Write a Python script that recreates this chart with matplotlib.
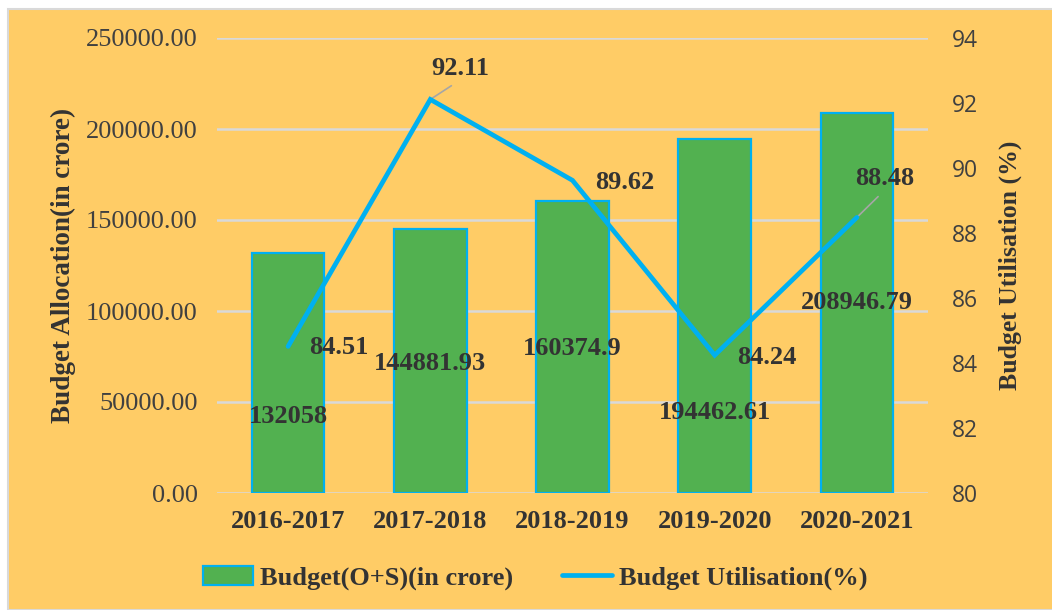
import matplotlib
matplotlib.use("Agg")
import matplotlib.pyplot as plt
from matplotlib.patches import Rectangle

# Data
years = ["2016-2017", "2017-2018", "2018-2019", "2019-2020", "2020-2021"]
budget = [132058, 144881.93, 160374.9, 194462.61, 208946.79]
budget_text = ["132058", "144881.93", "160374.9", "194462.61", "208946.79"]
utilisation = [84.51, 92.11, 89.62, 84.24, 88.48]
left_ticks = [0, 50000, 100000, 150000, 200000, 250000]
right_ticks = [80, 82, 84, 86, 88, 90, 92, 94]

# label offsets (pixels) as placed in the original
bar_lab_off = [(0, -164), (0, -134), (0, -147), (0, -273), (0, -190)]
line_lab_off = [(51, -1), (30, 31), (52, -2), (52, -2), (28, 39)]
leader = [False, True, False, False, True]

serif = "Liberation Serif"
txt = "#333333"
bg = "#FFCC66"
green = "#52B150"
cyan = "#00B0F0"

fig = plt.figure(figsize=(10.52, 6.1), dpi=100, facecolor="white")
fig.patches.append(Rectangle((8/1052, 0), 1.0, 1 - 9/610, transform=fig.transFigure,
                             facecolor=bg, edgecolor="#D9D9D9", lw=1.5, zorder=-10))
ax = fig.add_axes([217/1052, 1 - 493/610, 711/1052, 455/610])
ax.set_facecolor("none")
x = list(range(len(years)))

bars = ax.bar(x, budget, width=0.51, color=green, edgecolor=cyan, lw=1.6,
              label="Budget(O+S)(in crore)", zorder=3)
ax.set_xlim(-0.5, 4.5)
ax.set_ylim(0, 250000)
ax.set_yticks(left_ticks)
ax.set_yticklabels(["%.2f" % v for v in left_ticks], fontfamily=serif,
                   fontsize=19, color="#404040")
ax.set_xticks(x)
ax.set_xticklabels(years, fontfamily=serif, fontsize=19, fontweight="bold", color=txt)
ax.tick_params(axis="both", length=0)
ax.tick_params(axis="y", pad=14)
ax.tick_params(axis="x", pad=12)
ax.yaxis.grid(True, color="#D9D9D9", lw=1.8, zorder=0)
ax.set_axisbelow(True)
for s in ax.spines.values():
    s.set_visible(False)
ax.set_ylabel("Budget Allocation(in crore)", fontfamily=serif, fontsize=19.5,
              fontweight="bold", color=txt, labelpad=7)

for i in x:
    ax.annotate(budget_text[i], (x[i], budget[i]), xytext=bar_lab_off[i],
                textcoords="offset pixels", ha="center", va="center",
                fontfamily=serif, fontsize=19, fontweight="bold", color=txt, zorder=6)

ax2 = ax.twinx()
ln, = ax2.plot(x, utilisation, color=cyan, lw=3.4, solid_capstyle="round",
               solid_joinstyle="miter", label="Budget Utilisation(%)", zorder=4)
ax2.set_ylim(80, 94)
ax2.set_yticks(right_ticks)
ax2.set_yticklabels([str(v) for v in right_ticks], fontfamily="Open Sans",
                    fontsize=16.5, color="#404040")
ax2.tick_params(axis="y", length=0, pad=17)
for s in ax2.spines.values():
    s.set_visible(False)
ax2.set_ylabel("Budget Utilisation (%)", fontfamily=serif, fontsize=18.5,
               fontweight="bold", color=txt, labelpad=15)

for i in x:
    kw = {}
    if leader[i]:
        kw["arrowprops"] = dict(arrowstyle="-", color="#A6A6A6", lw=1.2,
                                relpos=(0.5, 0.0), shrinkA=4, shrinkB=0)
    ax2.annotate("%.2f" % utilisation[i], (x[i], utilisation[i]), xytext=line_lab_off[i],
                 textcoords="offset pixels", ha="center", va="center",
                 fontfamily=serif, fontsize=19, fontweight="bold", color=txt, **kw)

fig.legend([bars, ln], ["Budget(O+S)(in crore)", "Budget Utilisation(%)"],
           loc="center", bbox_to_anchor=(535/1052, 1 - 578/610), ncol=2,
           frameon=False, handlelength=1.9, handletextpad=0.27, columnspacing=1.85,
           prop=dict(family=serif, size=19, weight="bold"), labelcolor=txt)

fig.savefig("out.png", dpi=100, facecolor=fig.get_facecolor())
